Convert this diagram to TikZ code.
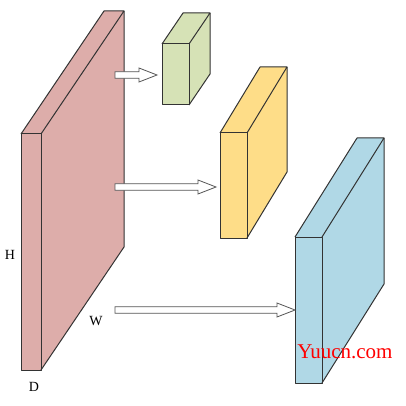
\documentclass[tikz,border=0pt]{standalone}
\usepackage{fontspec}
\setmainfont{Liberation Serif}
\usetikzlibrary{calc}
\definecolor{cred}{HTML}{DDADAA}
\definecolor{cgreen}{HTML}{D6E2B6}
\definecolor{cyellow}{HTML}{FEDD88}
\definecolor{cblue}{HTML}{B0D8E6}
\definecolor{edge}{HTML}{333333}
\definecolor{arrline}{HTML}{555555}
\tikzset{
  face/.style={draw=edge, line width=1pt, line join=round},
  fatarr/.style={draw=arrline, fill=white, line width=0.8pt, line join=miter},
  lbl/.style={font=\fontsize{14}{14}\selectfont, inner sep=0pt},
  wmark/.style={font=\fontsize{21}{21}\selectfont, text=red, inner sep=0pt}
}
% slab: name, x0, ytop, w, h, dx, dy, color
\newcommand\drawslab[8]{%
  \coordinate (#1-ftl) at (#2,#3);
  \coordinate (#1-ftr) at ($(#1-ftl)+(#4,0)$);
  \coordinate (#1-fbl) at ($(#1-ftl)+(0,#5)$);
  \coordinate (#1-fbr) at ($(#1-ftl)+(#4,#5)$);
  \coordinate (#1-btl) at ($(#1-ftl)+(#6,-#7)$);
  \coordinate (#1-btr) at ($(#1-ftr)+(#6,-#7)$);
  \coordinate (#1-bbr) at ($(#1-fbr)+(#6,-#7)$);
  \fill[#8] (#1-ftl) -- (#1-btl) -- (#1-btr) -- (#1-bbr) -- (#1-fbr) -- (#1-fbl) -- cycle;
  \draw[face] (#1-ftl) -- (#1-ftr) -- (#1-fbr) -- (#1-fbl) -- cycle;
  \draw[face] (#1-ftl) -- (#1-btl) -- (#1-btr) -- (#1-ftr);
  \draw[face] (#1-btr) -- (#1-bbr) -- (#1-fbr);
}
% fat hollow arrow from #1 to #2 (named coordinates)
\newcommand\fatarrow[2]{%
  \draw[fatarr] ($(#1)+(0,-3.3)$) -- ($(#2)+(-18,-3.3)$) -- ($(#2)+(-18,-7)$) -- (#2)
    -- ($(#2)+(-18,7)$) -- ($(#2)+(-18,3.3)$) -- ($(#1)+(0,3.3)$) -- cycle;
}
\begin{document}
\begin{tikzpicture}[x=1pt,y=-1pt]
\useasboundingbox (0,0) rectangle (406,406);
\fill[white] (0,0) rectangle (406,406);
\drawslab{red}{21}{134}{20}{236}{83}{123}{cred}
\drawslab{green}{162}{44}{27}{61}{21}{31}{cgreen}
\drawslab{yellow}{220}{133}{27}{105}{40}{66}{cyellow}
\drawslab{blue}{295}{237}{27}{146}{62}{99}{cblue}
\coordinate (s1) at (115,75);
\coordinate (e1) at (green-ftl |- s1);
\coordinate (s2) at (115,187);
\coordinate (e2) at (yellow-ftl |- s2);
\coordinate (s3) at (115,310);
\coordinate (e3) at (blue-ftl |- s3);
\fatarrow{s1}{$(e1)+(-5,0)$}
\fatarrow{s2}{$(e2)+(-4,0)$}
\fatarrow{s3}{e3}
\node[lbl] (H) at (10,255) {H};
\node[lbl] (W) at (96,321) {W};
\node[lbl] (D) at (34,387) {D};
\node[wmark] (wm) at (345,352) {Yuucn.com};
\end{tikzpicture}
\end{document}
